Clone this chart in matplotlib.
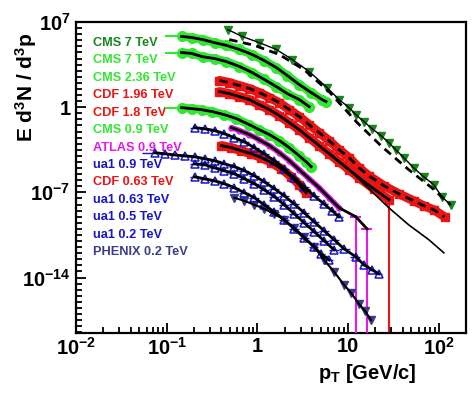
import numpy as np
import matplotlib
matplotlib.use("Agg")
import matplotlib.pyplot as plt
from matplotlib.ticker import FixedLocator, NullFormatter, LogLocator

plt.rcParams['font.family'] = ['Liberation Sans', 'DejaVu Sans']
plt.rcParams['font.weight'] = 'bold'
plt.rcParams['mathtext.fontset'] = 'custom'
plt.rcParams['mathtext.rm'] = 'Liberation Sans:bold'
plt.rcParams['mathtext.bf'] = 'Liberation Sans:bold'
plt.rcParams['mathtext.it'] = 'Liberation Sans:bold'
plt.rcParams['mathtext.default'] = 'rm'

# ---------------- data ----------------
cms7hi_pt = [0.47, 0.68, 1.05, 1.62, 2.43, 3.73, 5.87, 7.96, 10.3, 12.2, 15.0, 18.4,
             23.1, 28.2, 33.6, 41.2, 53.1, 68.4, 88.1, 108, 135]
cms7hi_y = [2.4e6, 6.5e5, 2.0e5, 5.5e4, 8.1e3, 850, 41, 4.2, 0.91, 0.24, 0.065, 0.017,
            4.6e-3, 1.2e-3, 3.2e-4, 7.1e-5, 1.0e-5, 1.9e-6, 4.3e-7, 4.4e-8, 9.5e-9]
cms7hi_fit_pt = [0.49, 0.93, 1.75, 3.28, 6.18, 12.6, 23.7, 46.8, 83.7, 135]
cms7hi_fit_y = [3.6e5, 1.2e5, 2.1e4, 1.2e3, 19, 0.054, 5.6e-4, 7.2e-6, 2.4e-7, 9.5e-9]

cms7_pt = [0.146, 0.188, 0.249, 0.337, 0.456, 0.634, 0.881, 1.19, 1.62, 2.14, 2.90, 3.92, 5.18, 5.72]
cms7_y = [6.5e5, 5.3e5, 3.6e5, 2.0e5, 1.2e5, 5.5e4, 2.1e4, 6.8e3, 1.8e3, 400, 72, 16, 4.2, 2.9]

cms236_pt = [0.146, 0.188, 0.249, 0.337, 0.456, 0.634, 0.881, 1.19, 1.62, 2.14, 2.90, 3.73]
cms236_y = [3.1e4, 2.6e4, 1.4e4, 1.0e4, 5.6e3, 2.2e3, 690, 190, 49, 13, 4.2, 1.1]

cdf196_pt = [0.382, 0.492, 0.634, 0.817, 1.05, 1.36, 1.75, 2.25, 2.90, 3.73, 4.80, 6.18,
             7.96, 10.3, 13.2, 17.0, 24.9, 36.3, 53.1, 68.4, 88.1, 116]
cdf196_y = [155, 105, 59, 34, 16, 6.2, 2.3, 0.62, 0.17, 0.036, 8.1e-3, 1.8e-3,
            3.2e-4, 7.1e-5, 1.05e-5, 2.3e-6, 3.5e-7, 7.6e-8, 2.0e-8, 7.9e-9, 3.7e-9, 9.8e-10]

cdf18_pt = [0.382, 0.492, 0.634, 0.817, 1.05, 1.36, 1.75, 2.25, 2.90, 3.73, 4.80, 6.18,
            7.96, 10.3, 13.2, 19.3, 28.2]
cdf18_y = [19, 13, 7.4, 4.2, 1.6, 0.62, 0.20, 0.054, 0.014, 3.1e-3, 6.9e-4, 1.5e-4,
           3.3e-5, 7.2e-6, 1.6e-6, 1.9e-7, 2.5e-8]
cdf18_last_ylow = 1e-25   # lower end of the last point's error bar (off scale)
cdf18_fit_pt = [6.18, 10.3, 17.0, 28.2, 46.8, 77.6, 114]
cdf18_fit_y = [1.8e-4, 7.2e-6, 2.0e-7, 5.4e-9, 2.1e-10, 1.3e-11, 1.07e-12]

cms09_pt = [0.146, 0.188, 0.243, 0.320, 0.434, 0.587, 0.817, 1.05, 1.36, 1.75, 2.25, 2.90, 3.45, 3.92]
cms09_y = [0.91, 0.76, 0.62, 0.43, 0.24, 0.115, 0.036, 0.014, 5.5e-3, 1.8e-3, 4.7e-4, 1.0e-4, 3.3e-5, 1.3e-5]
cms_first_xerr = 0.05

atlas_pt = [0.518, 0.634, 0.817, 1.05, 1.36, 1.75, 2.25, 2.90, 3.73, 4.80, 6.18, 7.96, 12.2, 16.2]
atlas_y = [0.021, 0.012, 5.5e-3, 2.1e-3, 6.9e-4, 1.8e-4, 4.0e-5, 7.2e-6, 1.3e-6, 2.4e-7, 3.6e-8,
           5.4e-9, 9.8e-10, 1.0e-10]
atlas_tail_xerr = [1.8, 2.4]
atlas_tail_ylow = [1e-25, 1e-25]

ua1_09_pt = [0.203, 0.262, 0.337, 0.434, 0.558, 0.72, 0.927, 1.19, 1.54, 1.98, 2.55, 3.28,
             4.23, 5.45, 6.67, 7.96]
ua1_09_y = [0.021, 0.017, 0.012, 6.6e-3, 3.1e-3, 1.4e-3, 4.7e-4, 1.5e-4, 4.0e-5, 8.7e-6,
            1.6e-6, 2.9e-7, 5.2e-8, 1.1e-8, 3.1e-9, 9.8e-10]

cdf063_pt = [0.402, 0.518, 0.667, 0.859, 1.11, 1.43, 1.84, 2.37, 2.90, 3.45]
cdf063_y = [6.9e-4, 4.7e-4, 2.6e-4, 1.5e-4, 7.1e-5, 2.8e-5, 8.7e-6, 1.9e-6, 4.3e-7, 9.3e-8]

ua1_063_pt = [0.074, 0.095, 0.122, 0.158, 0.203, 0.262, 0.337, 0.434, 0.558, 0.72, 0.927,
              1.19, 1.54, 1.98, 2.55, 3.28, 4.23, 5.45, 7.01, 9.04, 12.2, 15.0, 18.4, 21.9]
ua1_063_y = [1.8e-4, 1.5e-4, 1.2e-4, 1.0e-4, 8.5e-5, 5.9e-5, 4.0e-5, 2.2e-5, 1.3e-5, 6.0e-6,
             2.3e-6, 7.4e-7, 2.0e-7, 5.2e-8, 1.1e-8, 2.1e-9, 3.8e-10, 6.9e-11, 1.3e-11,
             2.3e-12, 5.0e-13, 1.1e-13, 4.3e-14, 2.0e-14]
ua1_063_first_xerr = 0.02

ua1_05_pt = [0.203, 0.262, 0.337, 0.434, 0.558, 0.72, 0.927, 1.19, 1.54, 1.98, 2.55, 3.28,
             4.23, 5.45, 7.01]
ua1_05_y = [2.2e-5, 1.9e-5, 1.05e-5, 6.0e-6, 3.4e-6, 1.3e-6, 5.1e-7, 1.6e-7, 4.4e-8, 9.5e-9,
            1.7e-9, 3.2e-10, 5.8e-11, 1.05e-11, 1.9e-12]

ua1_02_pt = [0.203, 0.262, 0.337, 0.434, 0.558, 0.72, 0.927, 1.19, 1.54, 1.98, 2.55, 3.28,
             4.23, 5.05, 6.18]
ua1_02_y = [1.9e-6, 1.3e-6, 8.9e-7, 5.1e-7, 2.4e-7, 9.3e-8, 3.6e-8, 9.5e-9, 2.5e-9, 5.5e-10,
            1.0e-10, 1.8e-11, 3.3e-12, 8.7e-13, 2.8e-13]

phenix_pt = [0.558, 0.72, 0.927, 1.19, 1.54, 1.98, 2.55, 3.28, 4.23, 5.45, 7.01, 9.04, 10.8,
             13.2, 15.4, 17.9]
phenix_y = [3.6e-8, 2.0e-8, 9.5e-9, 4.5e-9, 1.7e-9, 5.5e-10, 1.2e-10, 2.2e-11, 3.3e-12,
            2.8e-13, 3.0e-14, 2.5e-15, 5.5e-16, 6.8e-17, 1.8e-17, 3.2e-18]

legend_labels = ["CMS 7 TeV", "CMS 7 TeV", "CMS 2.36 TeV", "CDF 1.96 TeV", "CDF 1.8 TeV",
                 "CMS 0.9 TeV", "ATLAS 0.9 TeV", "ua1 0.9 TeV", "CDF 0.63 TeV",
                 "ua1 0.63 TeV", "ua1 0.5 TeV", "ua1 0.2 TeV", "PHENIX 0.2 TeV"]

y_major = [1e-14, 1e-7, 1, 1e7]
y_major_labels = [r'$10^{-14}$', r'$10^{-7}$', '1', r'$10^{7}$']
x_major = [1e-2, 1e-1, 1, 10, 100]
x_major_labels = [r'$10^{-2}$', r'$10^{-1}$', '1', '10', r'$10^{2}$']

# ---------------- style ----------------
DGREEN = '#17881a'
LGREEN = '#33e633'
RED = '#ea1414'
MAG = '#e619e6'
BLUE = '#1616c8'
PHX = '#3c3c8c'
legend_colors = [DGREEN, LGREEN, LGREEN, RED, RED, LGREEN, MAG, BLUE, RED, BLUE, BLUE, BLUE, PHX]

fig = plt.figure(figsize=(4.77, 3.94), dpi=100)
ax = fig.add_axes([76/477, 61/394, 390/477, 311/394])
ax.set_xscale('log')
ax.set_yscale('log')


def green_band(x, y):
    ax.plot(x, y, color=LGREEN, lw=6.0, solid_capstyle='round', zorder=2)
    ax.plot(x, y, 'o', color=LGREEN, ms=7, zorder=2)
    ax.errorbar([x[0]], [y[0]], xerr=[[cms_first_xerr], [cms_first_xerr]], fmt='none',
                ecolor=LGREEN, elinewidth=1.5, capsize=0, zorder=2)
    ax.plot(x, y, color='k', lw=2, zorder=6)


def red_band(x, y, ls='-'):
    ax.plot(x, y, color=RED, lw=6.5, solid_capstyle='round', zorder=2)
    ax.plot(x, y, 's', color=RED, ms=6.0, zorder=2)
    if ls == '-':
        ax.plot(x, y, color='k', lw=2, zorder=6)
    else:
        ax.plot(x, y, color='k', lw=2, dashes=(3, 2), zorder=6)


def log_bins(x):
    x = np.asarray(x, float)
    mids = np.sqrt(x[1:] * x[:-1])
    lo = np.r_[x[0] - x[0] ** 2 / mids[0], x[1:] - mids]
    hi = np.r_[mids - x[:-1], x[-1] ** 2 / mids[-1] - x[-1]]
    return lo, hi


def ua1(x, y, first_err=None):
    lo, hi = log_bins(x)
    if first_err is not None:
        lo[0] = first_err
    ax.errorbar(x, y, xerr=[lo, hi], fmt='^', mfc='none', mec=BLUE, ecolor=BLUE, ms=6,
                mew=1.1, elinewidth=1.0, capsize=0, zorder=3)
    ax.plot(x, y, color='k', lw=2, zorder=6)


# CMS 7 TeV high pT (dark green)
ax.plot(cms7hi_pt, cms7hi_y, 'v', color=DGREEN, ms=5.5, zorder=3)
ax.plot(cms7hi_pt, cms7hi_y, color='k', lw=1.0, zorder=6)
ax.plot(cms7hi_fit_pt, cms7hi_fit_y, color='k', lw=2, dashes=(3, 2), zorder=6)

green_band(cms7_pt, cms7_y)
green_band(cms236_pt, cms236_y)
green_band(cms09_pt, cms09_y)

red_band(cdf196_pt, cdf196_y, ls='--')
red_band(cdf18_pt, cdf18_y)
ax.errorbar([cdf18_pt[-1]], [cdf18_y[-1]], yerr=[[cdf18_y[-1] - cdf18_last_ylow], [0.5 * cdf18_y[-1]]],
            fmt='none', ecolor=RED, elinewidth=1.5, capsize=0, zorder=2)
ax.plot(cdf18_fit_pt, cdf18_fit_y, color='k', lw=1.2, zorder=6)
red_band(cdf063_pt, cdf063_y)

# ATLAS
ax.plot(atlas_pt[:-2], atlas_y[:-2], color=MAG, lw=4.0, solid_capstyle='round', zorder=3)
ax.plot(atlas_pt[:-2], atlas_y[:-2], 'o', color=MAG, ms=3.5, zorder=3)
ax.errorbar(atlas_pt[-2:], atlas_y[-2:], xerr=atlas_tail_xerr,
            yerr=[np.array(atlas_y[-2:]) - np.array(atlas_tail_ylow), 0.5 * np.array(atlas_y[-2:])],
            fmt='none', ecolor=MAG, elinewidth=1.5, capsize=0, zorder=3)
ax.plot(atlas_pt, atlas_y, color='k', lw=2, zorder=6)

ua1(ua1_09_pt, ua1_09_y)
ua1(ua1_063_pt, ua1_063_y, first_err=ua1_063_first_xerr)
ua1(ua1_05_pt, ua1_05_y)
ua1(ua1_02_pt, ua1_02_y)

ax.plot(phenix_pt, phenix_y, 'v', color=PHX, ms=6, zorder=3)
ax.plot(phenix_pt, phenix_y, color='k', lw=1.5, zorder=6)

# ---------------- axes ----------------
ax.set_xlim(1e-2, 200)
ax.set_ylim(10 ** -18.56, 1e7)
for s in ax.spines.values():
    s.set_linewidth(1.6)

ax.xaxis.set_major_locator(FixedLocator(x_major))
ax.xaxis.set_ticklabels(x_major_labels)
ax.xaxis.set_minor_locator(LogLocator(base=10, subs=np.arange(2, 10)))
ax.xaxis.set_minor_formatter(NullFormatter())
ax.yaxis.set_major_locator(FixedLocator(y_major))
ax.yaxis.set_ticklabels(y_major_labels)
ax.yaxis.set_minor_locator(FixedLocator(10.0 ** (np.arange(-40, 17) / 2.0)))
ax.yaxis.set_minor_formatter(NullFormatter())
ax.tick_params(which='both', direction='in', top=False, right=False, width=1.3)
ax.tick_params(which='major', length=7, labelsize=14.5, pad=4)
ax.tick_params(which='minor', length=4)
ax.tick_params(axis='x', which='major', pad=3)

fig.text(417/477, 1 - 379/394, r'$p_{T}$ [GeV/c]', ha='right', va='baseline', fontsize=14.5,
         fontweight='bold')
fig.text(26/477, 1 - 33/394, 'E d$^{3}$N / d$^{3}$p', ha='center', va='top', rotation=90,
         fontsize=15, fontweight='bold')

# legend as coloured texts
y0 = (333 - 43) / 311.0
dy = 17.42 / 311.0
for i, (lab, col) in enumerate(zip(legend_labels, legend_colors)):
    ax.text(17 / 390.0, y0 - i * dy, lab, color=col, fontsize=9.2, fontweight='bold',
            ha='left', va='center', transform=ax.transAxes, zorder=1)

fig.savefig('out.png', dpi=100)
